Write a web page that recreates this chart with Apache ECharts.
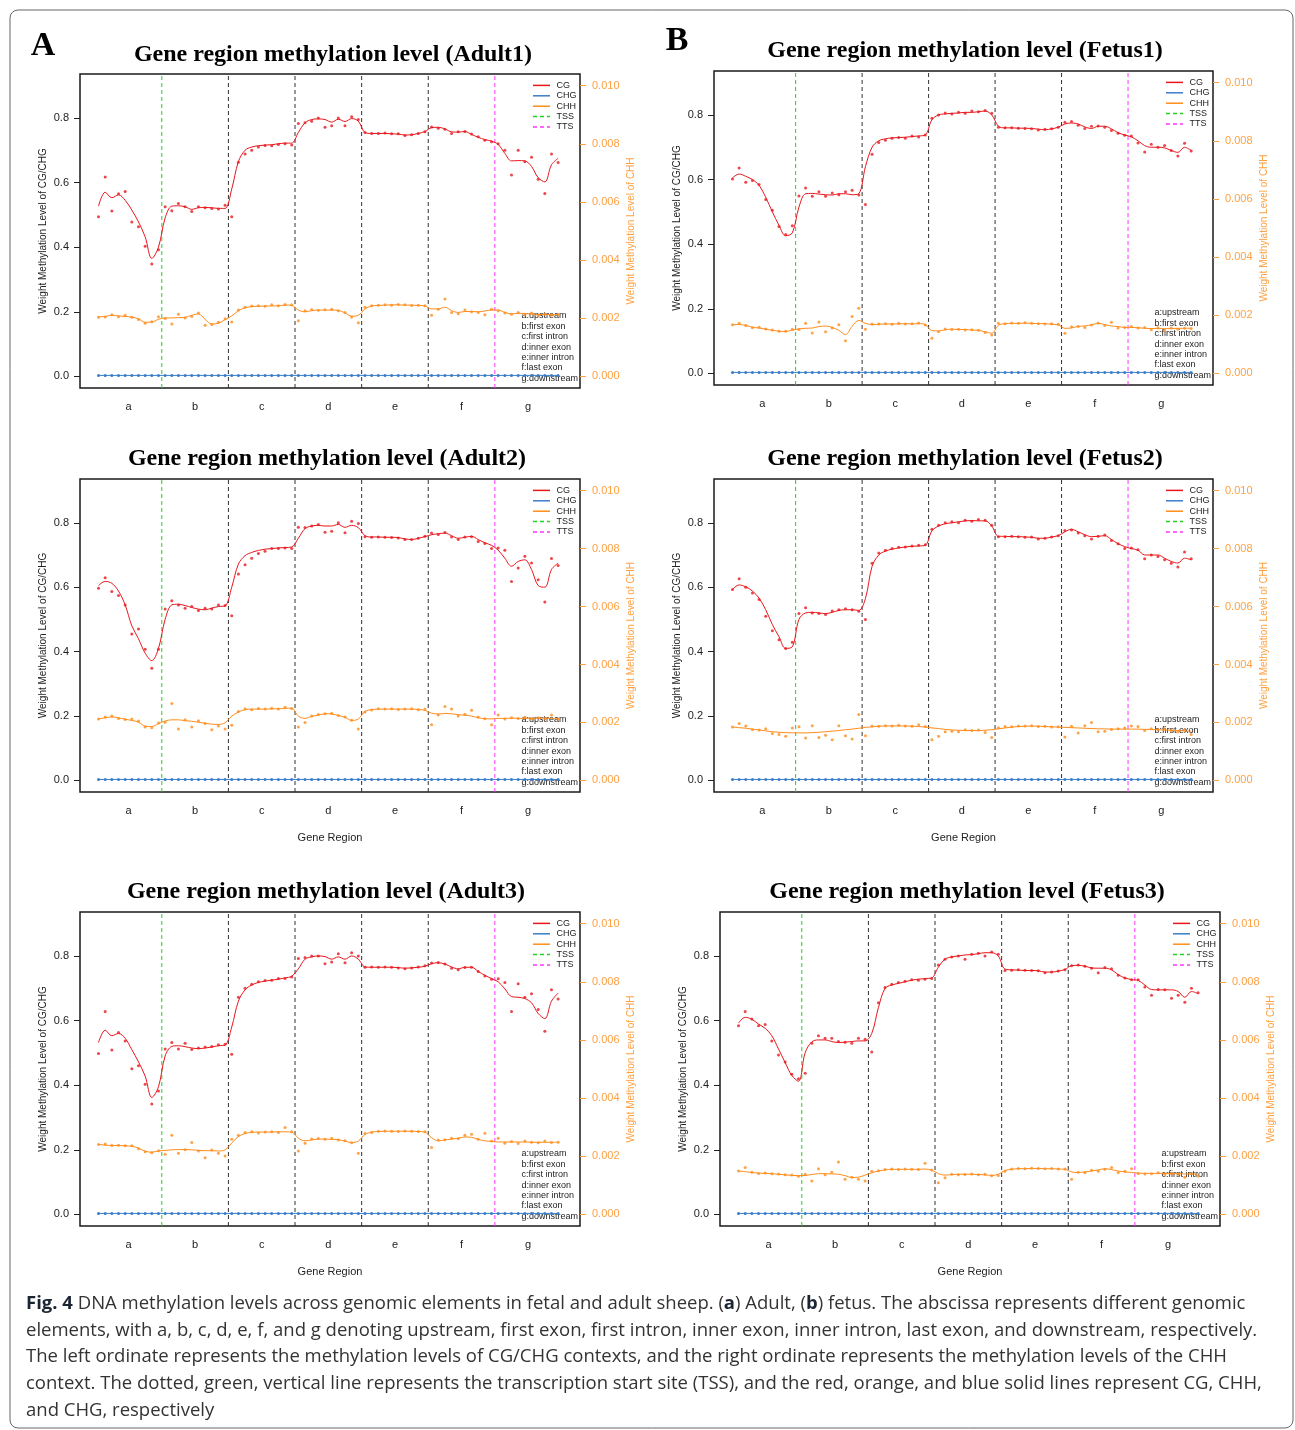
<!DOCTYPE html>
<html>
<head>
<meta charset="utf-8">
<script src="https://cdn.jsdelivr.net/npm/echarts@6/dist/echarts.min.js"></script>
<style>
html, body { margin: 0; padding: 0; background: #fff; }
#chartId { width: 1295px; height: 1430px; }
</style>
</head>
<body>
<div id="chartId"></div>
<script>
// bins 1..140 (20 per region), values read at every other bin
const regionLetters = ['a', 'b', 'c', 'd', 'e', 'f', 'g'];
const regionNotes = ['a:upstream', 'b:first exon', 'c:first intron', 'd:inner exon', 'e:inner intron', 'f:last exon', 'g:downstream'];
const innerBounds = [40, 60, 80, 100];
const tssBin = 20, ttsBin = 120;
const binIdx = [];
for (let k = 0; k < 70; k++) binIdx.push(2 * k + 1);

// ---- Adult1 ----
const adult1CGFit = [
  .527,.570,.553,.562,.545,.515,.478,.432,.365,.400,
  .490,.527,.528,.525,.517,.522,.523,.522,.520,.520,
  .580,.665,.700,.710,.714,.716,.717,.720,.722,.722,
  .755,.785,.795,.797,.795,.787,.796,.789,.798,.790,
  .755,.752,.752,.752,.751,.750,.747,.748,.752,.758,
  .770,.771,.766,.757,.756,.758,.749,.740,.733,.728,
  .718,.690,.667,.668,.667,.650,.615,.602,.655,.675];
const adult1CG = [
  .494,.617,.512,.565,.572,.478,.463,.403,.348,.392,
  .525,.513,.535,.525,.510,.525,.522,.520,.518,.530,
  .494,.663,.688,.700,.710,.715,.714,.718,.720,.716,
  .783,.785,.790,.800,.771,.776,.800,.776,.804,.795,
  .755,.752,.752,.753,.751,.751,.746,.748,.752,.757,
  .772,.768,.765,.752,.757,.758,.750,.742,.731,.726,
  .720,.700,.623,.700,.664,.678,.610,.566,.688,.662];
const adult1CHHFit = [
  .00205,.00206,.00210,.00208,.00206,.00204,.00198,.00186,.00187,.00196,
  .00201,.00201,.00202,.00203,.00210,.00215,.00196,.00180,.00183,.00195,
  .00208,.00226,.00236,.00240,.00241,.00242,.00242,.00243,.00245,.00244,
  .00228,.00222,.00226,.00228,.00228,.00228,.00227,.00218,.00207,.00210,
  .00232,.00242,.00244,.00245,.00246,.00246,.00245,.00245,.00244,.00242,
  .00232,.00232,.00238,.00226,.00220,.00223,.00223,.00222,.00225,.00228,
  .00228,.00220,.00215,.00217,.00216,.00214,.00213,.00213,.00213,.00212];
const adult1CHH = [
  .00203,.00204,.00212,.00205,.00210,.00203,.00196,.00183,.00188,.00205,
  .00199,.00180,.00214,.00201,.00206,.00218,.00176,.00178,.00186,.00198,
  .00187,.00228,.00238,.00242,.00243,.00241,.00246,.00243,.00247,.00246,
  .00191,.00226,.00230,.00227,.00229,.00231,.00226,.00220,.00204,.00184,
  .00238,.00243,.00245,.00246,.00245,.00247,.00246,.00244,.00245,.00243,
  .00210,.00231,.00266,.00220,.00215,.00228,.00222,.00220,.00212,.00231,
  .00226,.00218,.00214,.00220,.00212,.00218,.00210,.00214,.00211,.00213];

// ---- Adult2 ----
const adult2CGFit = [
  .605,.618,.612,.588,.545,.480,.440,.395,.372,.410,
  .500,.545,.547,.543,.537,.532,.530,.535,.540,.542,
  .600,.672,.698,.708,.714,.718,.720,.722,.723,.725,
  .752,.782,.790,.792,.790,.790,.795,.786,.792,.785,
  .760,.756,.756,.755,.755,.754,.750,.748,.752,.757,
  .763,.766,.768,.760,.752,.755,.758,.748,.738,.730,
  .715,.690,.665,.680,.685,.655,.605,.600,.655,.675];
const adult2CG = [
  .597,.629,.587,.574,.545,.455,.470,.407,.348,.407,
  .532,.558,.545,.535,.540,.528,.535,.532,.545,.543,
  .511,.641,.670,.690,.705,.712,.720,.720,.722,.720,
  .786,.785,.790,.795,.771,.774,.800,.769,.805,.798,
  .757,.755,.756,.755,.754,.753,.748,.748,.752,.758,
  .768,.764,.770,.756,.748,.756,.757,.742,.736,.720,
  .722,.715,.618,.660,.696,.675,.623,.554,.689,.667];
const adult2CHHFit = [
  .00212,.00216,.00219,.00216,.00211,.00207,.00201,.00187,.00186,.00196,
  .00205,.00209,.00209,.00206,.00204,.00201,.00197,.00194,.00193,.00199,
  .00222,.00236,.00244,.00246,.00246,.00246,.00247,.00247,.00249,.00249,
  .00222,.00214,.00221,.00225,.00230,.00229,.00224,.00218,.00207,.00212,
  .00238,.00244,.00246,.00246,.00246,.00246,.00246,.00246,.00245,.00242,
  .00232,.00229,.00231,.00230,.00227,.00225,.00222,.00216,.00213,.00212,
  .00214,.00214,.00215,.00214,.00214,.00214,.00215,.00215,.00214,.00213];
const adult2CHH = [
  .00212,.00219,.00222,.00214,.00210,.00212,.00205,.00184,.00182,.00198,
  .00201,.00265,.00177,.00209,.00184,.00206,.00196,.00175,.00188,.00177,
  .00190,.00238,.00247,.00244,.00248,.00246,.00249,.00246,.00252,.00248,
  .00184,.00200,.00222,.00227,.00230,.00232,.00224,.00219,.00208,.00177,
  .00236,.00243,.00247,.00246,.00247,.00245,.00246,.00247,.00244,.00246,
  .00192,.00226,.00255,.00246,.00222,.00228,.00242,.00219,.00213,.00192,
  .00226,.00212,.00216,.00214,.00218,.00212,.00216,.00213,.00226,.00212];

// ---- Adult3 ----
const adult3CGFit = [
  .532,.570,.553,.560,.545,.510,.472,.428,.362,.395,
  .490,.520,.522,.519,.515,.513,.515,.518,.522,.524,
  .580,.660,.695,.710,.718,.722,.725,.728,.732,.737,
  .760,.790,.797,.800,.798,.790,.797,.790,.800,.790,
  .766,.765,.765,.765,.765,.764,.762,.763,.765,.768,
  .776,.779,.775,.766,.760,.765,.765,.752,.740,.730,
  .720,.698,.674,.672,.668,.655,.622,.606,.660,.685];
const adult3CG = [
  .498,.628,.509,.563,.537,.451,.460,.403,.342,.382,
  .512,.532,.512,.530,.510,.515,.518,.520,.525,.527,
  .496,.672,.700,.712,.720,.724,.725,.730,.730,.735,
  .792,.795,.800,.800,.776,.781,.807,.779,.810,.800,
  .765,.766,.765,.766,.765,.763,.760,.763,.766,.770,
  .778,.780,.775,.762,.757,.764,.765,.752,.738,.728,
  .729,.718,.628,.714,.672,.683,.634,.567,.695,.667];
const adult3CHHFit = [
  .00241,.00238,.00237,.00237,.00236,.00234,.00228,.00217,.00214,.00218,
  .00220,.00222,.00223,.00223,.00222,.00220,.00219,.00219,.00218,.00222,
  .00245,.00268,.00278,.00282,.00283,.00283,.00283,.00284,.00284,.00283,
  .00262,.00253,.00256,.00259,.00259,.00258,.00257,.00252,.00247,.00252,
  .00275,.00283,.00285,.00286,.00286,.00286,.00286,.00286,.00285,.00283,
  .00264,.00253,.00256,.00259,.00262,.00266,.00265,.00258,.00253,.00251,
  .00249,.00249,.00249,.00249,.00249,.00248,.00248,.00248,.00248,.00248];
const adult3CHH = [
  .00240,.00242,.00237,.00238,.00236,.00236,.00226,.00215,.00212,.00219,
  .00207,.00272,.00210,.00222,.00247,.00218,.00195,.00221,.00210,.00201,
  .00258,.00272,.00282,.00284,.00280,.00283,.00284,.00282,.00299,.00284,
  .00218,.00245,.00259,.00261,.00258,.00262,.00256,.00253,.00246,.00210,
  .00278,.00282,.00286,.00287,.00286,.00285,.00287,.00286,.00285,.00284,
  .00230,.00256,.00257,.00262,.00260,.00272,.00276,.00258,.00279,.00252,
  .00262,.00245,.00251,.00244,.00252,.00248,.00246,.00252,.00247,.00248];

// ---- Fetus1 ----
const fetus1CGFit = [
  .605,.617,.610,.600,.582,.545,.500,.458,.426,.435,
  .515,.556,.557,.555,.553,.552,.556,.556,.553,.556,
  .640,.700,.720,.726,.729,.730,.731,.733,.735,.738,
  .785,.800,.803,.805,.806,.808,.808,.810,.812,.800,
  .765,.760,.760,.759,.759,.758,.756,.754,.757,.762,
  .772,.775,.772,.763,.758,.765,.765,.757,.745,.738,
  .732,.720,.705,.700,.700,.698,.690,.684,.700,.690];
const fetus1CG = [
  .602,.636,.592,.597,.585,.538,.505,.455,.430,.457,
  .549,.574,.548,.562,.548,.558,.553,.562,.567,.552,
  .523,.678,.715,.722,.728,.730,.728,.735,.732,.738,
  .790,.800,.806,.803,.808,.805,.812,.810,.814,.805,
  .762,.760,.760,.759,.758,.757,.753,.756,.757,.762,
  .777,.780,.768,.758,.765,.766,.762,.752,.743,.737,
  .735,.713,.685,.709,.700,.705,.690,.673,.712,.688];
const fetus1CHHFit = [
  .00167,.00168,.00165,.00159,.00156,.00152,.00148,.00145,.00144,.00149,
  .00153,.00155,.00156,.00161,.00163,.00158,.00148,.00133,.00162,.00182,
  .00172,.00168,.00169,.00170,.00170,.00170,.00171,.00170,.00171,.00168,
  .00147,.00146,.00150,.00152,.00151,.00151,.00149,.00148,.00143,.00138,
  .00165,.00171,.00172,.00172,.00173,.00172,.00171,.00171,.00169,.00167,
  .00155,.00156,.00162,.00163,.00167,.00172,.00168,.00163,.00161,.00158,
  .00158,.00157,.00155,.00154,.00154,.00154,.00154,.00155,.00155,.00155];
const fetus1CHH = [
  .00167,.00172,.00165,.00157,.00159,.00153,.00149,.00145,.00145,.00152,
  .00151,.00172,.00139,.00177,.00143,.00156,.00167,.00112,.00196,.00224,
  .00152,.00170,.00170,.00171,.00169,.00172,.00170,.00171,.00173,.00166,
  .00121,.00143,.00153,.00151,.00152,.00149,.00150,.00148,.00141,.00132,
  .00172,.00171,.00173,.00172,.00174,.00172,.00171,.00170,.00171,.00169,
  .00138,.00160,.00161,.00158,.00166,.00173,.00165,.00176,.00156,.00158,
  .00161,.00156,.00158,.00150,.00157,.00147,.00156,.00152,.00155,.00154];

// ---- Fetus2 ----
const fetus2CGFit = [
  .593,.607,.601,.588,.566,.530,.484,.446,.410,.415,
  .500,.520,.522,.520,.518,.522,.528,.530,.530,.528,
  .565,.665,.700,.712,.718,.722,.725,.727,.728,.730,
  .775,.790,.797,.800,.803,.806,.807,.806,.806,.790,
  .758,.758,.757,.757,.756,.755,.752,.752,.756,.760,
  .772,.780,.772,.763,.757,.758,.760,.748,.735,.726,
  .720,.715,.700,.700,.700,.690,.680,.675,.690,.685];
const fetus2CG = [
  .593,.626,.600,.582,.562,.510,.465,.437,.410,.429,
  .518,.536,.520,.518,.515,.526,.530,.533,.530,.525,
  .500,.674,.706,.715,.720,.724,.725,.728,.730,.732,
  .780,.792,.800,.803,.800,.808,.805,.810,.808,.792,
  .757,.757,.758,.757,.755,.756,.750,.752,.756,.760,
  .776,.778,.768,.760,.750,.758,.762,.745,.735,.720,
  .722,.716,.688,.700,.695,.685,.674,.663,.709,.688];
const fetus2CHHFit = [
  .00184,.00182,.00180,.00177,.00174,.00171,.00168,.00166,.00165,.00164,
  .00164,.00164,.00165,.00166,.00168,.00170,.00172,.00175,.00177,.00180,
  .00183,.00185,.00187,.00188,.00188,.00188,.00188,.00187,.00186,.00184,
  .00181,.00179,.00176,.00174,.00173,.00172,.00172,.00172,.00173,.00175,
  .00178,.00181,.00184,.00186,.00187,.00187,.00187,.00186,.00185,.00184,
  .00183,.00182,.00181,.00180,.00179,.00178,.00178,.00177,.00177,.00177,
  .00177,.00177,.00176,.00176,.00175,.00174,.00173,.00172,.00171,.00170];
const fetus2CHH = [
  .00184,.00196,.00188,.00175,.00174,.00178,.00162,.00158,.00152,.00181,
  .00185,.00146,.00189,.00148,.00156,.00140,.00189,.00154,.00143,.00227,
  .00154,.00188,.00187,.00189,.00188,.00190,.00188,.00187,.00192,.00186,
  .00140,.00152,.00168,.00170,.00168,.00175,.00172,.00174,.00165,.00148,
  .00182,.00186,.00185,.00188,.00188,.00189,.00186,.00187,.00184,.00185,
  .00150,.00187,.00164,.00189,.00200,.00168,.00170,.00176,.00178,.00181,
  .00188,.00186,.00172,.00178,.00175,.00178,.00172,.00168,.00174,.00158];

// ---- Fetus3 ----
const fetus3CGFit = [
  .592,.610,.604,.589,.576,.553,.512,.470,.430,.412,
  .500,.534,.540,.540,.535,.532,.533,.535,.537,.537,
  .560,.640,.700,.710,.715,.720,.725,.728,.730,.732,
  .765,.790,.797,.800,.803,.804,.807,.810,.810,.800,
  .759,.757,.756,.755,.755,.754,.750,.750,.753,.758,
  .770,.771,.768,.763,.762,.762,.757,.742,.732,.727,
  .724,.710,.696,.695,.695,.695,.690,.672,.690,.683];
const fetus3CG = [
  .584,.628,.605,.584,.588,.537,.493,.472,.434,.420,
  .437,.530,.553,.545,.545,.535,.533,.530,.545,.542,
  .503,.655,.702,.712,.718,.722,.726,.725,.728,.730,
  .772,.790,.797,.800,.790,.805,.808,.800,.812,.805,
  .755,.756,.757,.756,.755,.754,.748,.750,.753,.757,
  .770,.772,.768,.762,.748,.764,.760,.740,.732,.726,
  .726,.704,.678,.696,.695,.669,.678,.657,.700,.686];
const fetus3CHHFit = [
  .00149,.00147,.00144,.00142,.00141,.00140,.00138,.00136,.00134,.00133,
  .00134,.00137,.00140,.00140,.00139,.00138,.00133,.00127,.00128,.00135,
  .00143,.00149,.00153,.00155,.00155,.00155,.00155,.00155,.00156,.00152,
  .00140,.00135,.00137,.00138,.00138,.00138,.00137,.00136,.00134,.00138,
  .00151,.00155,.00157,.00157,.00158,.00158,.00157,.00157,.00156,.00155,
  .00146,.00144,.00146,.00149,.00153,.00157,.00154,.00149,.00146,.00144,
  .00142,.00141,.00141,.00141,.00141,.00140,.00140,.00139,.00139,.00139];
const fetus3CHH = [
  .00149,.00161,.00145,.00141,.00142,.00140,.00139,.00136,.00135,.00131,
  .00138,.00115,.00157,.00136,.00145,.00180,.00121,.00128,.00121,.00115,
  .00148,.00150,.00154,.00156,.00154,.00156,.00155,.00154,.00176,.00153,
  .00109,.00126,.00138,.00136,.00137,.00139,.00136,.00138,.00133,.00134,
  .00148,.00156,.00158,.00157,.00159,.00158,.00157,.00158,.00156,.00156,
  .00121,.00145,.00143,.00152,.00148,.00155,.00161,.00144,.00148,.00157,
  .00141,.00139,.00140,.00143,.00138,.00141,.00137,.00128,.00140,.00132];

// CHG sits just above zero in every sample
const chgLevel = [
  .003,.003,.003,.003,.003,.003,.003,.003,.003,.003,
  .003,.003,.003,.003,.003,.003,.003,.003,.003,.003,
  .003,.003,.003,.003,.003,.003,.003,.003,.003,.003,
  .003,.003,.003,.003,.003,.003,.003,.003,.003,.003,
  .003,.003,.003,.003,.003,.003,.003,.003,.003,.003,
  .003,.003,.003,.003,.003,.003,.003,.003,.003,.003,
  .003,.003,.003,.003,.003,.003,.003,.003,.003,.003];

const RED = '#e8161c', BLUE = '#3a7dc9', ORANGE = '#ff8c1a', ORANGE_TXT = '#ffa040';
const GREEN = '#1fd41f', MAGENTA = '#ff33ff';
const SANS = '"Liberation Sans", Arial, sans-serif';
const Y_MIN = -0.036, Y_MAX = 0.936;

const panels = [
  { name: 'Adult1', left: 80,  top: 74,  width: 500, height: 314, titleX: 333, titleY: 55,  geneRegion: false,
    cg: adult1CG, cgFit: adult1CGFit, chh: adult1CHH, chhFit: adult1CHHFit },
  { name: 'Fetus1', left: 714, top: 71,  width: 499, height: 314, titleX: 965, titleY: 51,  geneRegion: false,
    cg: fetus1CG, cgFit: fetus1CGFit, chh: fetus1CHH, chhFit: fetus1CHHFit },
  { name: 'Adult2', left: 80,  top: 479, width: 500, height: 313, titleX: 327, titleY: 459, geneRegion: true,
    cg: adult2CG, cgFit: adult2CGFit, chh: adult2CHH, chhFit: adult2CHHFit },
  { name: 'Fetus2', left: 714, top: 479, width: 499, height: 313, titleX: 965, titleY: 459, geneRegion: true,
    cg: fetus2CG, cgFit: fetus2CGFit, chh: fetus2CHH, chhFit: fetus2CHHFit },
  { name: 'Adult3', left: 80,  top: 912, width: 500, height: 314, titleX: 326, titleY: 892, geneRegion: true,
    cg: adult3CG, cgFit: adult3CGFit, chh: adult3CHH, chhFit: adult3CHHFit },
  { name: 'Fetus3', left: 720, top: 912, width: 500, height: 314, titleX: 967, titleY: 892, geneRegion: true,
    cg: fetus3CG, cgFit: fetus3CGFit, chh: fetus3CHH, chhFit: fetus3CHHFit }
];

function pairs(vals){
    return vals.map((v, k) => [binIdx[k], v]);
}

function txt(x, y, text, font, fill, align, valign){
    return { type: 'text', x: x, y: y, silent: true,
        style: { text: text, font: font, fill: fill,
                 textAlign: align || 'left', align: align || 'left',
                 textVerticalAlign: valign || 'middle', verticalAlign: valign || 'middle' } };
}

var grids = [], xAxes = [], yAxes = [], series = [], graphics = [];

panels.forEach(function(p, i){
    grids.push({ left: p.left, top: p.top, width: p.width, height: p.height,
                 show: true, borderColor: '#1a1a1a', borderWidth: 1.5, backgroundColor: 'transparent' });
    xAxes.push({
        gridIndex: i, type: 'value', min: -4.56, max: 145.56, position: 'bottom',
        axisLine: { show: false, onZero: false }, axisTick: { show: false }, splitLine: { show: false },
        axisLabel: { customValues: [10, 30, 50, 70, 90, 110, 130], margin: 13,
                     fontFamily: SANS, fontSize: 11, color: '#222',
                     formatter: v => regionLetters[Math.round((v - 10) / 20)] },
        name: p.geneRegion ? 'Gene Region' : '', nameLocation: 'middle', nameGap: 40,
        nameTextStyle: { fontFamily: SANS, fontSize: 11, color: '#222' }
    });
    yAxes.push({
        gridIndex: i, type: 'value', position: 'left', min: Y_MIN, max: Y_MAX,
        axisLine: { show: false, onZero: false }, splitLine: { show: false },
        axisTick: { show: true, length: 6, customValues: [0, 0.2, 0.4, 0.6, 0.8], lineStyle: { color: '#222' } },
        axisLabel: { customValues: [0, 0.2, 0.4, 0.6, 0.8], margin: 11, fontFamily: SANS, fontSize: 11, color: '#222',
                     formatter: v => v.toFixed(1) },
        name: 'Weight Methylation Level of CG/CHG', nameLocation: 'middle', nameGap: 32, nameRotate: 90,
        nameTextStyle: { fontFamily: SANS, fontSize: 10, color: '#222' }
    });
    yAxes.push({
        gridIndex: i, type: 'value', position: 'right', min: -0.0004, max: 0.0104,
        axisLine: { show: false, onZero: false }, splitLine: { show: false },
        axisTick: { show: true, length: 6, customValues: [0, 0.002, 0.004, 0.006, 0.008, 0.010], lineStyle: { color: ORANGE_TXT } },
        axisLabel: { customValues: [0, 0.002, 0.004, 0.006, 0.008, 0.010], margin: 12, fontFamily: SANS, fontSize: 11, color: ORANGE_TXT,
                     formatter: v => v.toFixed(3) },
        name: 'Weight Methylation Level of CHH', nameLocation: 'middle', nameGap: 46, nameRotate: 90,
        nameTextStyle: { fontFamily: SANS, fontSize: 10, color: ORANGE_TXT }
    });

    var yl = 2 * i, yr = 2 * i + 1;

    // region boundaries as dashed verticals: TSS green, TTS magenta, others dark grey
    var bounds = [[tssBin, GREEN]].concat(innerBounds.map(b => [b, '#333'])).concat([[ttsBin, MAGENTA]]);
    bounds.forEach(function(b){
        series.push({ type: 'line', xAxisIndex: i, yAxisIndex: yl, silent: true, z: 1,
                      data: [[b[0], Y_MIN], [b[0], Y_MAX]], showSymbol: false,
                      lineStyle: { color: b[1], width: 1, type: [4, 3] } });
    });

    series.push({ type: 'line', xAxisIndex: i, yAxisIndex: yl, data: pairs(p.cgFit), smooth: 0.35,
                  showSymbol: false, lineStyle: { color: RED, width: 1 }, z: 3 });
    series.push({ type: 'scatter', xAxisIndex: i, yAxisIndex: yl, data: pairs(p.cg), symbolSize: 3,
                  itemStyle: { color: RED }, z: 3 });
    series.push({ type: 'line', xAxisIndex: i, yAxisIndex: yl, data: pairs(chgLevel),
                  showSymbol: true, showAllSymbol: true, symbol: 'circle', symbolSize: 3,
                  itemStyle: { color: BLUE }, lineStyle: { color: BLUE, width: 1 }, z: 2 });
    series.push({ type: 'line', xAxisIndex: i, yAxisIndex: yr, data: pairs(p.chhFit), smooth: 0.35,
                  showSymbol: false, lineStyle: { color: ORANGE, width: 1 }, z: 3 });
    series.push({ type: 'scatter', xAxisIndex: i, yAxisIndex: yr, data: pairs(p.chh), symbolSize: 3,
                  itemStyle: { color: ORANGE }, z: 3 });

    // title
    graphics.push(txt(p.titleX, p.titleY, 'Gene region methylation level (' + p.name + ')',
                      'bold 24px "Liberation Serif", "Times New Roman", serif', '#000', 'center'));

    // line legend, top right
    var right = p.left + p.width;
    var legendItems = [
        ['CG', RED, null], ['CHG', BLUE, null], ['CHH', ORANGE, null],
        ['TSS', GREEN, [4, 3]], ['TTS', MAGENTA, [4, 3]]
    ];
    legendItems.forEach(function(it, j){
        var y = p.top + 11.4 + j * 10.4;
        graphics.push({ type: 'line', silent: true,
            shape: { x1: right - 47, y1: y, x2: right - 30, y2: y },
            style: { stroke: it[1], lineWidth: 1.5, lineDash: it[2] } });
        graphics.push(txt(right - 23.5, y, it[0], '9px ' + SANS, '#222'));
    });

    // region notes, bottom right
    regionNotes.forEach(function(t, j){
        var y = p.top + p.height - 72 + j * 10.35;
        graphics.push(txt(right - 58.5, y, t, '9px ' + SANS, '#222'));
    });
});

// panel letters
graphics.push(txt(43, 46, 'A', 'bold 34px "Liberation Serif", serif', '#000', 'center'));
graphics.push(txt(677, 41, 'B', 'bold 34px "Liberation Serif", serif', '#000', 'center'));

// figure frame
graphics.push({ type: 'rect', silent: true, z: -1,
    shape: { x: 10, y: 10, width: 1283, height: 1418, r: 8 },
    style: { fill: 'none', stroke: '#666', lineWidth: 1 } });

// caption
const captionLines = [
    '{b|Fig. 4} DNA methylation levels across genomic elements in fetal and adult sheep. ({b|a}) Adult, ({b|b}) fetus. The abscissa represents different genomic',
    'elements, with a, b, c, d, e, f, and g denoting upstream, first exon, first intron, inner exon, inner intron, last exon, and downstream, respectively.',
    'The left ordinate represents the methylation levels of CG/CHG contexts, and the right ordinate represents the methylation levels of the CHH',
    'context. The dotted, green, vertical line represents the transcription start site (TSS), and the red, orange, and blue solid lines represent CG, CHH,',
    'and CHG, respectively'
];
captionLines.forEach(function(line, j){
    graphics.push({ type: 'text', x: 26, y: 1304 + j * 26.6, silent: true,
        style: { text: line, fontFamily: '"Open Sans", sans-serif', fontSize: 18.5, fill: '#333',
                 textVerticalAlign: 'middle', verticalAlign: 'middle',
                 rich: { b: { fontFamily: '"Open Sans", sans-serif', fontSize: 18.5, fontWeight: 'bold', fill: '#1c2633' } } } });
});

var chart = echarts.init(document.getElementById('chartId'));
chart.setOption({
    animation: false,
    backgroundColor: '#fff',
    grid: grids,
    xAxis: xAxes,
    yAxis: yAxes,
    series: series,
    graphic: { elements: graphics }
});
</script>
</body>
</html>
